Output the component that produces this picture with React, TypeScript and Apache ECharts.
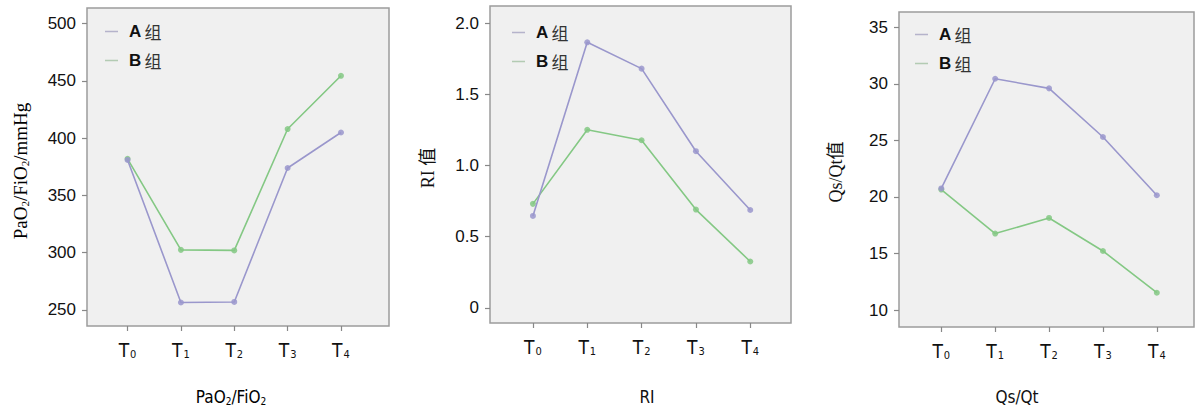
import React, { useEffect, useRef } from "react";
import * as echarts from "echarts";

const timePoints = ["0", "1", "2", "3", "4"];
const seriesNames = ["A 组", "B 组"];

const paoA = [381, 256.5, 257, 374, 405];
const paoB = [382, 302.5, 302, 408, 454.5];
const riA = [0.645, 1.865, 1.68, 1.1, 0.687];
const riB = [0.73, 1.25, 1.177, 0.69, 0.325];
const qsA = [20.75, 30.45, 29.6, 25.3, 20.15];
const qsB = [20.65, 16.76, 18.14, 15.22, 11.53];

const paoTicks = [250, 300, 350, 400, 450, 500];
const riTicks = [0, 0.5, 1, 1.5, 2];
const qsTicks = [10, 15, 20, 25, 30, 35];

const COLOR_A = "#9a97cc";
const COLOR_B = "#84c884";
const SANS = "'Liberation Sans', Arial, 'Noto Sans CJK SC', sans-serif";
const NARROW = "'Liberation Sans Narrow', 'DejaVu Sans Condensed', 'Liberation Sans', sans-serif";
const SERIF = "'Liberation Serif', 'Times New Roman', 'Noto Sans CJK SC', serif";

const panels = [
  { grid: { left: 87, top: 8, width: 302, height: 318 }, xMin: -0.76, xMax: 4.9, yMin: 236, yMax: 513.7, ticks: paoTicks, a: paoA, b: paoB, legend: { left: 105, top: 23 } },
  { grid: { left: 490, top: 6, width: 301, height: 317 }, xMin: -0.79, xMax: 4.75, yMin: -0.107, yMax: 2.12, ticks: riTicks, a: riA, b: riB, legend: { left: 512, top: 24 } },
  { grid: { left: 899, top: 12, width: 295, height: 315 }, xMin: -0.785, xMax: 4.69, yMin: 8.5, yMax: 36.35, ticks: qsTicks, a: qsA, b: qsB, legend: { left: 915, top: 26 } },
];

const subRich = (size: number, family: string) => ({
  a: { fontSize: size, fontFamily: family, color: "#111" },
  s: { fontSize: Math.round(size * 0.6), fontFamily: family, color: "#111", padding: [Math.round(size * 0.45), 0, 0, 0] },
});

export default function App() {
  const ref = useRef<HTMLDivElement>(null);
  useEffect(() => {
    if (!ref.current) return;
    const chart = echarts.init(ref.current, undefined, { renderer: "svg" });
    const grids: any[] = [];
    const xAxes: any[] = [];
    const yAxes: any[] = [];
    const series: any[] = [];
    const legends: any[] = [];
    panels.forEach((p, i) => {
      grids.push({ ...p.grid, show: true, backgroundColor: "#f0f0f0", borderColor: "#9c9c9c", borderWidth: 1.5 });
      xAxes.push({
        type: "value",
        gridIndex: i,
        position: "bottom",
        min: p.xMin,
        max: p.xMax,
        axisLine: { show: false, onZero: false },
        splitLine: { show: false },
        axisTick: { show: true, length: 5, customValues: [0, 1, 2, 3, 4], lineStyle: { color: "#888", width: 1.2 } },
        axisLabel: {
          customValues: [0, 1, 2, 3, 4],
          margin: 14,
          formatter: (v: number) => `{t|T}{s|${timePoints[Math.round(v)]}}`,
          rich: {
            t: { fontSize: 19, fontFamily: NARROW, color: "#111", lineHeight: 20 },
            s: { fontSize: 11, fontFamily: NARROW, color: "#111", padding: [8, 0, 0, 1], lineHeight: 20 },
          },
        },
      });
      yAxes.push({
        type: "value",
        gridIndex: i,
        position: "left",
        min: p.yMin,
        max: p.yMax,
        axisLine: { show: false, onZero: false },
        splitLine: { show: false },
        axisTick: { show: true, length: 5, customValues: p.ticks, lineStyle: { color: "#888", width: 1.2 } },
        axisLabel: {
          customValues: p.ticks,
          margin: 11,
          fontSize: 17,
          fontFamily: SANS,
          color: "#111",
          formatter: (v: number) => (i === 1 ? (v === 0 ? "0" : v.toFixed(1)) : String(v)),
        },
      });
      series.push({
        name: seriesNames[0],
        type: "line",
        xAxisIndex: i,
        yAxisIndex: i,
        data: p.a.map((v, k) => [k, v]),
        lineStyle: { color: COLOR_A, width: 1.6 },
        itemStyle: { color: COLOR_A, opacity: 0.85 },
        symbol: "circle",
        symbolSize: 6,
        z: 3,
      });
      series.push({
        name: seriesNames[1],
        type: "line",
        xAxisIndex: i,
        yAxisIndex: i,
        data: p.b.map((v, k) => [k, v]),
        lineStyle: { color: COLOR_B, width: 1.6 },
        itemStyle: { color: COLOR_B, opacity: 0.85 },
        symbol: "circle",
        symbolSize: 6,
        z: 2,
      });
      legends.push({
        left: p.legend.left,
        top: p.legend.top,
        orient: "vertical",
        padding: 0,
        itemGap: 12,
        itemWidth: 13,
        itemHeight: 1.5,
        icon: "rect",
        selectedMode: false,
        data: [
          { name: seriesNames[0], itemStyle: { color: "#aaa8c4" } },
          { name: seriesNames[1], itemStyle: { color: "#a8c4a8" } },
        ],
        formatter: (name: string) => `{b|${name[0]}} {c|${name.slice(2)}}`,
        textStyle: {
          padding: [0, 0, 0, 6],
          rich: {
            b: { fontSize: 17, fontFamily: SANS, fontWeight: "bold", color: "#111", lineHeight: 18 },
            c: { fontSize: 17, fontFamily: "'Noto Sans CJK SC', sans-serif", color: "#333", lineHeight: 18 },
          },
        },
      });
    });

    const graphic: any[] = [
      { type: "text", x: 20, y: 171, rotation: Math.PI / 2, style: { text: "{a|PaO}{s|2}{a|/FiO}{s|2}{a|/mmHg}", rich: subRich(19, SERIF), align: "center", verticalAlign: "middle" } },
      { type: "text", x: 428, y: 168, rotation: Math.PI / 2, style: { text: "RI 值", font: `18px ${SERIF}`, fill: "#111", align: "center", verticalAlign: "middle" } },
      { type: "text", x: 836, y: 172, rotation: Math.PI / 2, style: { text: "Qs/Qt值", font: `18px ${SERIF}`, fill: "#111", align: "center", verticalAlign: "middle" } },
      { type: "text", x: 231, y: 397, style: { text: "{a|PaO}{s|2}{a|/FiO}{s|2}", rich: subRich(17, NARROW), align: "center", verticalAlign: "middle" } },
      { type: "text", x: 647, y: 397, style: { text: "RI", font: `17px ${NARROW}`, fill: "#111", align: "center", verticalAlign: "middle" } },
      { type: "text", x: 1017, y: 397, style: { text: "Qs/Qt", font: `17px ${NARROW}`, fill: "#111", align: "center", verticalAlign: "middle" } },
    ];

    chart.setOption({
      animation: false,
      backgroundColor: "#ffffff",
      grid: grids,
      xAxis: xAxes,
      yAxis: yAxes,
      legend: legends,
      series,
      graphic,
    });
    return () => chart.dispose();
  }, []);
  return <div ref={ref} style={{ position: "fixed", left: 0, top: 0, width: 1204, height: 409 }} />;
}
